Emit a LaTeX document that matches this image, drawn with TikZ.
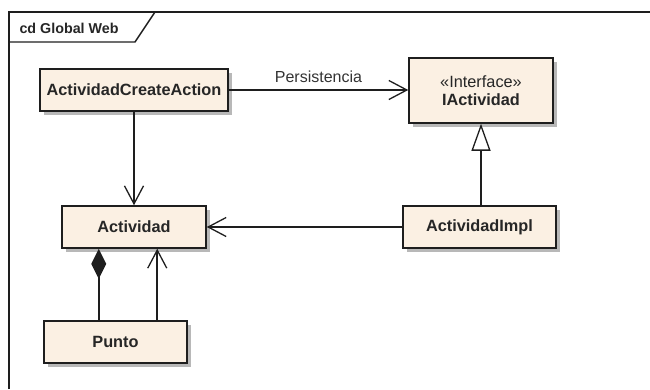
\documentclass[tikz,border=0pt]{standalone}
\usepackage{fontspec}
\setmainfont{Liberation Sans}
\usetikzlibrary{arrows.meta,shadows}
\definecolor{classfill}{RGB}{251,240,227}
\definecolor{edgecol}{RGB}{30,30,30}
\tikzset{
  umlclass/.style={draw=edgecol, line width=1.5pt, fill=classfill,
    drop shadow={shadow xshift=4pt, shadow yshift=-4pt, fill=black!28, opacity=1},
    font=\fontsize{16.3}{19}\selectfont\bfseries, align=center,
    inner sep=0pt, text=black!85},
  conn/.style={draw=edgecol, line width=1.7pt},
  openarrow/.style={-{Straight Barb[length=18pt,width=19pt,line width=1.3pt]}},
  realizes/.style={-{Triangle[open,length=27pt,width=19pt,line width=1.3pt,fill=white]}},
  composes/.style={{Diamond[length=30pt,width=15pt]}-},
}
\begin{document}
\begin{tikzpicture}[x=1pt,y=-1pt]
  \useasboundingbox (0,0) rectangle (650,389);
  % diagram frame with its name tab
  \draw[conn] (9,389) -- (9,12) -- (650,12);
  \draw[conn, line width=1.4pt] (9,42) -- (135,42) -- (155,12);
  \node[anchor=west, font=\fontsize{14.3}{16}\selectfont\bfseries, text=black!85] (frametitle) at (16,28) {cd Global Web};

  % classes
  \node[umlclass, minimum width=188pt, minimum height=42pt] (create) at (134,90) {ActividadCreateAction};
  \node[umlclass, minimum width=144pt, minimum height=65pt] (iact) at (481,90.5)
    {{\mdseries «Interface»}\\[-1pt]IActividad};
  \node[umlclass, minimum width=144pt, minimum height=42pt] (act) at (134,227) {Actividad};
  \node[umlclass, minimum width=153pt, minimum height=42pt] (impl) at (479.5,227) {ActividadImpl};
  \node[umlclass, minimum width=143pt, minimum height=42pt] (punto) at (115.5,342) {Punto};

  % associations
  \draw[conn, openarrow] (create.east) -- node[above=3pt, font=\fontsize{16}{18}\selectfont, text=black!80] (persist) {Persistencia} (create.east -| iact.west);
  \draw[conn, openarrow] (create.south) -- (act.north);
  \draw[conn, openarrow] (impl.west) -- (act.east);
  \draw[conn, realizes] (iact.south |- impl.north) -- (iact.south);

  % Punto to Actividad: composition and navigable association
  \coordinate (compfoot) at ([xshift=55.5pt]punto.north west);
  \coordinate (navfoot) at ([xshift=114pt]punto.north west);
  \draw[conn, composes] (compfoot |- act.south) -- (compfoot);
  \draw[conn, openarrow] (navfoot) -- (navfoot |- act.south);
\end{tikzpicture}
\end{document}
